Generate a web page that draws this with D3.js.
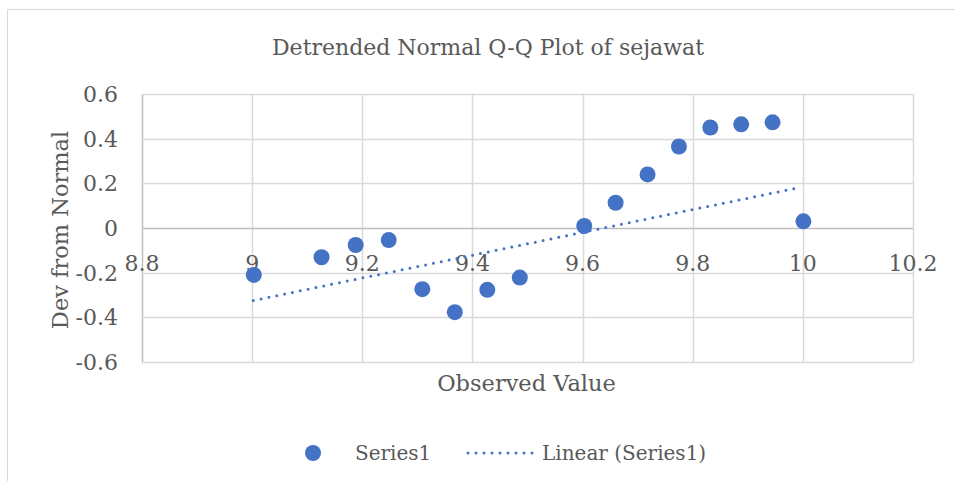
<!DOCTYPE html>
<html lang="en">
<head>
<meta charset="utf-8">
<title>Detrended Normal Q-Q Plot of sejawat</title>
<script src="https://d3js.org/d3.v7.min.js"></script>
<style>
  body { margin: 0; background: #fff; }
  text { font-family: "DejaVu Serif", serif; fill: #595959; }
</style>
</head>
<body>
<div id="chart"></div>
<script>
var observed = [9.003, 9.126, 9.188, 9.248, 9.309, 9.368, 9.427, 9.486,
                9.603, 9.660, 9.718, 9.775, 9.832, 9.888, 9.945, 10.001];
var deviation = [-0.210, -0.131, -0.076, -0.054, -0.274, -0.377, -0.277, -0.222,
                 0.009, 0.113, 0.240, 0.365, 0.450, 0.464, 0.473, 0.030];
// linear trendline ends as drawn
var trendX = [9.002, 9.991];
var trendY = [-0.325, 0.180];
var xTicks = [8.8, 9, 9.2, 9.4, 9.6, 9.8, 10, 10.2];
var yTicks = [-0.6, -0.4, -0.2, 0, 0.2, 0.4, 0.6];

var W = 955, H = 481;
var margin = {top: 94, right: 42, bottom: 119, left: 142};
var width = W - margin.left - margin.right,
    height = H - margin.top - margin.bottom;

var svg = d3.select("#chart").append("svg")
    .attr("width", W)
    .attr("height", H);

// chart frame
svg.append("rect")
    .attr("x", 7.5).attr("y", 9.5)
    .attr("width", W).attr("height", H)
    .attr("fill", "none")
    .attr("stroke", "#d9d9d9");

svg.append("text")
    .attr("x", 488).attr("y", 55)
    .attr("text-anchor", "middle")
    .style("font-size", "22px")
    .text("Detrended Normal Q-Q Plot of sejawat");

var g = svg.append("g")
    .attr("transform", "translate(" + margin.left + "," + margin.top + ")");

var x = d3.scaleLinear().domain([8.8, 10.2]).range([0, width]);
var y = d3.scaleLinear().domain([-0.6, 0.6]).range([height, 0]);

// grid
g.selectAll(".vgrid").data(xTicks).enter().append("line")
    .attr("x1", function(d) { return Math.round(x(d)) + 0.5; })
    .attr("x2", function(d) { return Math.round(x(d)) + 0.5; })
    .attr("y1", 0).attr("y2", height)
    .attr("stroke", function(d) { return d === 8.8 ? "#bfbfbf" : "#d9d9d9"; })
    .attr("stroke-width", 1.5);
g.selectAll(".hgrid").data(yTicks).enter().append("line")
    .attr("y1", function(d) { return Math.round(y(d)) + 0.5; })
    .attr("y2", function(d) { return Math.round(y(d)) + 0.5; })
    .attr("x1", 0).attr("x2", width)
    .attr("stroke", function(d) { return d === 0 ? "#bfbfbf" : "#d9d9d9"; })
    .attr("stroke-width", 1.5);

// y tick labels
g.selectAll(".ylab").data(yTicks).enter().append("text")
    .attr("x", -24)
    .attr("y", function(d) { return y(d) + 8; })
    .attr("text-anchor", "end")
    .style("font-size", "22px")
    .text(function(d) { return String(d); });

// x tick labels sit under the zero line
g.selectAll(".xlab").data(xTicks).enter().append("text")
    .attr("x", function(d) { return x(d); })
    .attr("y", y(0) + 43)
    .attr("text-anchor", "middle")
    .style("font-size", "22px")
    .text(function(d) { return String(d); });

// axis titles
g.append("text")
    .attr("x", width / 2 - 1)
    .attr("y", height + 29)
    .attr("text-anchor", "middle")
    .style("font-size", "22.5px")
    .text("Observed Value");
g.append("text")
    .attr("transform", "translate(-74," + (height / 2 + 2) + ") rotate(-90)")
    .attr("text-anchor", "middle")
    .style("font-size", "22.5px")
    .text("Dev from Normal");

// trendline
g.append("line")
    .attr("x1", x(trendX[0])).attr("y1", y(trendY[0]))
    .attr("x2", x(trendX[1])).attr("y2", y(trendY[1]))
    .attr("stroke", "#4472c4")
    .attr("stroke-width", 3)
    .attr("stroke-linecap", "round")
    .attr("stroke-dasharray", "0,8");

// points
g.selectAll(".pt").data(observed).enter().append("circle")
    .attr("cx", function(d) { return x(d); })
    .attr("cy", function(d, i) { return y(deviation[i]); })
    .attr("r", 8)
    .attr("fill", "#4472c4");

// legend
var leg = svg.append("g");
leg.append("circle").attr("cx", 313).attr("cy", 453).attr("r", 8).attr("fill", "#4472c4");
leg.append("text").attr("x", 355).attr("y", 460).style("font-size", "20px").text("Series1");
leg.append("line")
    .attr("x1", 468).attr("x2", 534).attr("y1", 453).attr("y2", 453)
    .attr("stroke", "#4472c4").attr("stroke-width", 3)
    .attr("stroke-linecap", "round").attr("stroke-dasharray", "0,8");
leg.append("text").attr("x", 542).attr("y", 460).style("font-size", "20px").text("Linear (Series1)");
</script>
</body>
</html>
